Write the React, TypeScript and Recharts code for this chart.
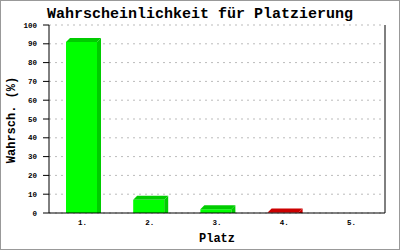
import { BarChart, Bar, XAxis, YAxis, CartesianGrid, Cell } from 'recharts';

const places = ['1.', '2.', '3.', '4.', '5.'];
const chances = [91, 7, 2, 0.2, 0];
const barColors = ['green', 'green', 'green', 'red', 'green'];
const yTicks = [0, 10, 20, 30, 40, 50, 60, 70, 80, 90, 100];

const data = places.map((p, i) => ({ place: p, value: chances[i], color: barColors[i] }));

const SHADES: Record<string, { front: string; dark: string }> = {
  green: { front: '#00ff00', dark: '#00cc00' },
  red: { front: '#ff0000', dark: '#cc0000' },
};

const FONT = '"Liberation Mono", "DejaVu Sans Mono", monospace';
const DEPTH = 4;

// pseudo 3d bar: front face + right side + top
function Bar3D(props: any) {
  const { x, y, width, height, payload } = props;
  if (!payload || payload.value <= 0) return null;
  const c = SHADES[payload.color];
  const d = DEPTH;
  const fx = x - 1;
  const side = `${fx + width},${y} ${fx + width + d},${y - d} ${fx + width + d},${y + height} ${fx + width},${y + height}`;
  const top = `${fx},${y} ${fx + d},${y - d} ${fx + width + d},${y - d} ${fx + width},${y}`;
  return (
    <g>
      <rect x={fx} y={y} width={width} height={height} fill={c.front} />
      <polygon points={side} fill={c.dark} />
      <polygon points={top} fill={c.dark} />
    </g>
  );
}

const YLabel = () => (
  <text
    x={12}
    y={120}
    transform="rotate(-90 12 120)"
    textAnchor="middle"
    dominantBaseline="central"
    fontFamily={FONT}
    fontWeight="bold"
    fontSize={12}
    fill="#000"
  >
    Wahrsch. (%)
  </text>
);

const XLabel = () => (
  <text
    x={217}
    y={242}
    textAnchor="middle"
    fontFamily={FONT}
    fontWeight="bold"
    fontSize={12}
    fill="#000"
  >
    Platz
  </text>
);

export default function App() {
  const tickStyle = { fontFamily: FONT, fontSize: 7.5, fontWeight: 'bold', fill: '#000' };
  return (
    <div
      style={{
        position: 'absolute',
        left: 0,
        top: 0,
        width: 400,
        height: 250,
        boxSizing: 'border-box',
        border: '1px solid #999',
        background: '#fff',
      }}
    >
      <div
        style={{
          position: 'absolute',
          left: -1,
          top: 5,
          width: 400,
          textAlign: 'center',
          fontFamily: FONT,
          fontWeight: 'bold',
          fontSize: 15,
          lineHeight: '17px',
          color: '#000',
        }}
      >
        Wahrscheinlichkeit für Platzierung
      </div>
      <BarChart
        width={400}
        height={250}
        data={data}
        margin={{ top: 25, right: 15, bottom: 17, left: 0 }}
        style={{ position: 'absolute', left: -1, top: -1 }}
      >
        <CartesianGrid vertical={false} stroke="#bbbbbb" strokeDasharray="2 4" />
        <CartesianGrid horizontal={false} verticalPoints={[385]} stroke="#000" />
        <XAxis
          dataKey="place"
          height={20}
          tickLine={false}
          tickSize={0}
          tickMargin={7}
          axisLine={{ stroke: '#000' }}
          tick={tickStyle}
          label={<XLabel />}
        />
        <YAxis
          width={49}
          domain={[0, 100]}
          ticks={yTicks}
          interval={0}
          tickSize={6}
          tickMargin={6}
          tickLine={{ stroke: '#000' }}
          axisLine={{ stroke: '#000' }}
          tick={tickStyle}
          label={<YLabel />}
        />
        <Bar dataKey="value" barSize={31} shape={<Bar3D />} isAnimationActive={false}>
          {data.map((d, i) => (
            <Cell key={i} fill={SHADES[d.color].front} />
          ))}
        </Bar>
      </BarChart>
    </div>
  );
}
